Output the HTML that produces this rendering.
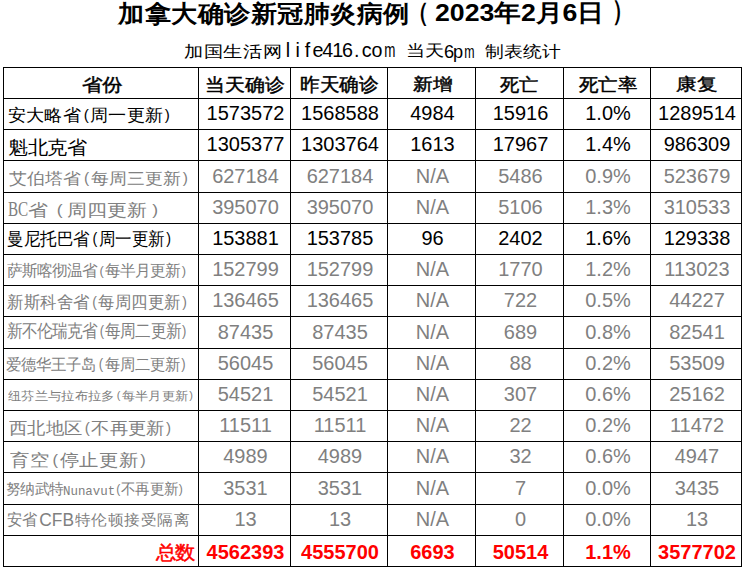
<!DOCTYPE html>
<html><head><meta charset="utf-8"><title>加拿大确诊新冠肺炎病例</title><style>
html,body{margin:0;padding:0;background:#fff;}
body{width:744px;height:571px;overflow:hidden;position:relative;font-family:"Liberation Sans",sans-serif;}
.l{position:absolute;background:#000;}
.c{position:absolute;display:flex;align-items:center;justify-content:center;white-space:nowrap;line-height:1;font-size:20px;transform:scaleY(1.045);}
.b{font-weight:bold;}
.t{position:absolute;left:0;top:0;white-space:nowrap;line-height:1;transform-origin:0 0;}
</style></head><body>

<div class="l" style="left:3px;top:67px;width:1px;height:500px"></div>
<div class="l" style="left:198px;top:67px;width:1px;height:500px"></div>
<div class="l" style="left:290px;top:67px;width:1px;height:500px"></div>
<div class="l" style="left:387px;top:67px;width:1px;height:500px"></div>
<div class="l" style="left:475px;top:67px;width:1px;height:500px"></div>
<div class="l" style="left:563px;top:67px;width:1px;height:500px"></div>
<div class="l" style="left:650px;top:67px;width:1px;height:500px"></div>
<div class="l" style="left:741px;top:67px;width:1px;height:500px"></div>
<div class="l" style="left:3px;top:67px;width:739px;height:1px"></div>
<div class="l" style="left:3px;top:98px;width:739px;height:1px"></div>
<div class="l" style="left:3px;top:129px;width:739px;height:1px"></div>
<div class="l" style="left:3px;top:160px;width:739px;height:1px"></div>
<div class="l" style="left:3px;top:192px;width:739px;height:1px"></div>
<div class="l" style="left:3px;top:223px;width:739px;height:1px"></div>
<div class="l" style="left:3px;top:254px;width:739px;height:1px"></div>
<div class="l" style="left:3px;top:285px;width:739px;height:1px"></div>
<div class="l" style="left:3px;top:316px;width:739px;height:1px"></div>
<div class="l" style="left:3px;top:348px;width:739px;height:1px"></div>
<div class="l" style="left:3px;top:379px;width:739px;height:1px"></div>
<div class="l" style="left:3px;top:410px;width:739px;height:1px"></div>
<div class="l" style="left:3px;top:441px;width:739px;height:1px"></div>
<div class="l" style="left:3px;top:472px;width:739px;height:1px"></div>
<div class="l" style="left:3px;top:504px;width:739px;height:1px"></div>
<div class="l" style="left:3px;top:535px;width:739px;height:1px"></div>
<div class="l" style="left:3px;top:566px;width:739px;height:1px"></div>
<div class="t" style="font-family:'Liberation Sans',sans-serif;font-size:24.59px;font-weight:bold;color:#000;left:117.50px;top:1.98px;transform:scale(1.0602,0.9760)">加拿大确诊新冠肺炎病例</div>
<div class="t" style="font-family:'Liberation Sans',sans-serif;font-size:23.66px;font-weight:bold;color:#000;left:407.25px;top:-0.18px;transform:scale(0.9167,1.0909)">（</div>
<div class="t" style="font-family:'Liberation Sans',sans-serif;font-size:24.94px;font-weight:bold;color:#000;left:435.33px;top:1.04px;transform:scale(1.0693,0.9583)">2023年2月6日</div>
<div class="t" style="font-family:'Liberation Sans',sans-serif;font-size:26.06px;font-weight:bold;color:#000;left:611.56px;top:-2.74px;transform:scale(0.8143,1.0609)">）</div>
<div class="t" style="font-family:'Liberation Sans',sans-serif;font-size:18.03px;color:#000;left:184.10px;top:42.70px;transform:scale(1.0966,0.9118)">加国生活网</div>
<div class="t" style="font-family:'Liberation Sans',sans-serif;font-size:20.39px;color:#000;left:282.64px;top:41.37px;transform:scale(0.9658,0.9667)"><span style="display:inline-block;width:0.5em;text-align:center">l</span><span style="display:inline-block;width:0.5em;text-align:center">i</span><span style="display:inline-block;width:0.5em;text-align:center">f</span><span style="display:inline-block;width:0.5em;text-align:center">e</span><span style="display:inline-block;width:0.5em;text-align:center">4</span><span style="display:inline-block;width:0.5em;text-align:center">1</span><span style="display:inline-block;width:0.5em;text-align:center">6</span><span style="display:inline-block;width:0.5em;text-align:center">.</span><span style="display:inline-block;width:0.5em;text-align:center">c</span><span style="display:inline-block;width:0.5em;text-align:center">o</span><span style="display:inline-block;width:0.5em;text-align:center"><span style="display:inline-block;transform:scaleX(0.68)">m</span></span></div>
<div class="t" style="font-family:'Liberation Sans',sans-serif;font-size:17.97px;color:#000;left:405.57px;top:44.19px;transform:scale(1.0636,0.8882)">当天</div>
<div class="t" style="font-family:'Liberation Sans',sans-serif;font-size:18.33px;color:#000;left:443.81px;top:43.00px;transform:scale(0.9931,1.0000)"><span style="display:inline-block;width:0.5em;text-align:center">6</span><span style="display:inline-block;width:0.5em;text-align:center">p</span><span style="display:inline-block;width:0.5em;text-align:center"><span style="display:inline-block;transform:scaleX(0.68)">m</span></span></div>
<div class="t" style="font-family:'Liberation Sans',sans-serif;font-size:17.86px;color:#000;left:484.70px;top:43.61px;transform:scale(1.0648,0.9056)">制表统计</div>
<div class="t" style="font-family:'Liberation Sans',sans-serif;font-size:19.09px;-webkit-text-stroke:0.45px #000;color:#000;left:81.63px;top:76.00px;transform:scale(1.0722,0.9368)">省份</div>
<div class="t" style="font-family:'Liberation Sans',sans-serif;font-size:18.95px;-webkit-text-stroke:0.45px #000;color:#000;left:204.91px;top:76.95px;transform:scale(1.0473,0.9474)">当天确诊</div>
<div class="t" style="font-family:'Liberation Sans',sans-serif;font-size:19.30px;-webkit-text-stroke:0.45px #000;color:#000;left:300.17px;top:75.00px;transform:scale(1.0320,1.0000)">昨天确诊</div>
<div class="t" style="font-family:'Liberation Sans',sans-serif;font-size:18.36px;-webkit-text-stroke:0.45px #000;color:#000;left:412.50px;top:76.00px;transform:scale(1.0971,0.9444)">新增</div>
<div class="t" style="font-family:'Liberation Sans',sans-serif;font-size:18.57px;-webkit-text-stroke:0.45px #000;color:#000;left:500.00px;top:76.94px;transform:scale(1.0105,0.9444)">死亡</div>
<div class="t" style="font-family:'Liberation Sans',sans-serif;font-size:18.23px;-webkit-text-stroke:0.45px #000;color:#000;left:578.80px;top:76.00px;transform:scale(1.0815,1.0000)">死亡率</div>
<div class="t" style="font-family:'Liberation Sans',sans-serif;font-size:18.77px;-webkit-text-stroke:0.45px #000;color:#000;left:676.32px;top:76.89px;transform:scale(1.0806,0.8947)">康复</div>
<div class="t" style="font-family:'Liberation Sans',sans-serif;font-size:17.69px;color:#000;left:8.39px;top:107.95px;transform:scale(1.0127,0.9529)">安大略省<span style="font-size:0.85em;position:relative;top:-0.07em;padding:0 0.1em 0 0.18em">(</span>周一更新<span style="font-size:0.85em;position:relative;top:-0.07em;padding:0 0.18em 0 0.1em">)</span></div>
<div class="t" style="font-family:'Liberation Sans',sans-serif;font-size:19.05px;color:#000;left:8.36px;top:138.00px;transform:scale(1.0351,0.9722)">魁北克省</div>
<div class="t" style="font-family:'Liberation Sans',sans-serif;font-size:17.18px;color:#808080;left:9.40px;top:170.80px;transform:scale(1.0631,0.9529)">艾伯塔省<span style="font-size:0.85em;position:relative;top:-0.07em;padding:0 0.1em 0 0.18em">(</span>每周三更新<span style="font-size:0.85em;position:relative;top:-0.07em;padding:0 0.18em 0 0.1em">)</span></div>
<div class="t" style="font-family:'Liberation Serif',serif;font-size:17.42px;color:#808080;left:7.73px;top:199.32px;transform:scale(0.8714,1.2273)">BC</div>
<div class="t" style="font-family:'Liberation Sans',sans-serif;font-size:17.58px;color:#808080;left:28.49px;top:202.65px;transform:scale(1.1104,0.9471)">省<span style="font-size:0.9em;position:relative;top:-0.06em;padding:0 0.25em 0 0.5em">(</span>周四更新<span style="font-size:0.9em;position:relative;top:-0.06em;padding:0 0 0 0.3em">)</span></div>
<div class="t" style="font-family:'Liberation Sans',sans-serif;font-size:17.32px;color:#000;left:7.03px;top:230.40px;transform:scale(0.9743,1.0625)">曼尼托巴省<span style="font-size:0.85em;position:relative;top:-0.07em;padding:0 0.1em 0 0.18em">(</span>周一更新<span style="font-size:0.85em;position:relative;top:-0.07em;padding:0 0.18em 0 0.1em">)</span></div>
<div class="t" style="font-family:'Liberation Sans',sans-serif;font-size:15.18px;color:#808080;left:7.00px;top:262.98px;transform:scale(1.0028,1.0214)">萨斯喀彻温省<span style="font-size:0.85em;position:relative;top:-0.07em;padding:0 0.1em 0 0.18em">(</span>每半月更新<span style="font-size:0.85em;position:relative;top:-0.07em;padding:0 0.18em 0 0.1em">)</span></div>
<div class="t" style="font-family:'Liberation Sans',sans-serif;font-size:16.82px;color:#808080;left:6.53px;top:294.71px;transform:scale(0.9727,1.0063)">新斯科舍省<span style="font-size:0.85em;position:relative;top:-0.07em;padding:0 0.1em 0 0.18em">(</span>每周四更新<span style="font-size:0.85em;position:relative;top:-0.07em;padding:0 0.18em 0 0.1em">)</span></div>
<div class="t" style="font-family:'Liberation Sans',sans-serif;font-size:16.22px;color:#808080;left:6.56px;top:322.12px;transform:scale(0.9418,1.0800)">新不伦瑞克省<span style="font-size:0.85em;position:relative;top:-0.07em;padding:0 0.1em 0 0.18em">(</span>每周二更新<span style="font-size:0.85em;position:relative;top:-0.07em;padding:0 0.18em 0 0.1em">)</span></div>
<div class="t" style="font-family:'Liberation Sans',sans-serif;font-size:15.42px;color:#808080;left:6.49px;top:355.75px;transform:scale(1.0056,1.0500)">爱德华王子岛<span style="font-size:0.85em;position:relative;top:-0.07em;padding:0 0.1em 0 0.18em">(</span>每周二更新<span style="font-size:0.85em;position:relative;top:-0.07em;padding:0 0.18em 0 0.1em">)</span></div>
<div class="t" style="font-family:'Liberation Sans',sans-serif;font-size:12.72px;color:#808080;left:7.50px;top:391.33px;transform:scale(1.0261,0.9308)">纽芬兰与拉布拉多<span style="font-size:0.85em;position:relative;top:-0.07em;padding:0 0.1em 0 0.18em">(</span>每半月更新<span style="font-size:0.85em;position:relative;top:-0.07em;padding:0 0.18em 0 0.1em">)</span></div>
<div class="t" style="font-family:'Liberation Sans',sans-serif;font-size:17.60px;color:#808080;left:9.40px;top:420.94px;transform:scale(1.0145,0.9412)">西北地区<span style="font-size:0.85em;position:relative;top:-0.07em;padding:0 0.1em 0 0.18em">(</span>不再更新<span style="font-size:0.85em;position:relative;top:-0.07em;padding:0 0.18em 0 0.1em">)</span></div>
<div class="t" style="font-family:'Liberation Sans',sans-serif;font-size:18.59px;color:#808080;left:9.71px;top:451.72px;transform:scale(1.0407,0.9158)">育空<span style="font-size:0.85em;position:relative;top:-0.07em;padding:0 0.1em 0 0.18em">(</span>停止更新<span style="font-size:0.85em;position:relative;top:-0.07em;padding:0 0.18em 0 0.1em">)</span></div>
<div class="t" style="font-family:'Liberation Sans',sans-serif;font-size:14.41px;color:#808080;left:6.38px;top:482.36px;transform:scale(1.0204,1.0385)">努纳武特</div>
<div class="t" style="font-family:'Liberation Mono',monospace;font-size:11.53px;color:#808080;left:62.72px;top:484.51px;transform:scale(1.0783,1.1429)">Nunavut</div>
<div class="t" style="font-family:'Liberation Sans',sans-serif;font-size:14.29px;color:#808080;left:113.79px;top:482.36px;transform:scale(1.0031,1.0385)"><span style="font-size:0.85em;position:relative;top:-0.07em;padding:0 0.1em 0 0.18em">(</span>不再更新<span style="font-size:0.85em;position:relative;top:-0.07em;padding:0 0.18em 0 0.1em">)</span></div>
<div class="t" style="font-family:'Liberation Sans',sans-serif;font-size:14.96px;color:#808080;left:7.29px;top:512.30px;transform:scale(1.0103,1.0571)">安省</div>
<div class="t" style="font-family:'Liberation Sans',sans-serif;font-size:17.34px;color:#808080;left:39.30px;top:511.68px;transform:scale(1.0000,1.0083)">CFB</div>
<div class="t" style="font-family:'Liberation Sans',sans-serif;font-size:15.61px;color:#808080;left:74.60px;top:512.30px;transform:scale(1.0279,0.9867)">特伦顿接受隔离</div>
<div class="t" style="font-family:'Liberation Sans',sans-serif;font-size:18.31px;-webkit-text-stroke:0.45px #f00;color:#ff0000;left:156.00px;top:544.00px;transform:scale(1.0800,1.0118)">总数</div>
<div class="c " style="left:200px;top:98.30px;width:91px;height:30.00px;color:#000;">1573572</div>
<div class="c " style="left:292px;top:98.30px;width:96px;height:30.00px;color:#000;">1568588</div>
<div class="c " style="left:389px;top:98.30px;width:87px;height:30.00px;color:#000;">4984</div>
<div class="c " style="left:477px;top:98.30px;width:87px;height:30.00px;color:#000;">15916</div>
<div class="c " style="left:565px;top:98.30px;width:86px;height:30.00px;color:#000;">1.0%</div>
<div class="c " style="left:652px;top:98.30px;width:90px;height:30.00px;color:#000;">1289514</div>
<div class="c " style="left:200px;top:129.30px;width:91px;height:30.00px;color:#000;">1305377</div>
<div class="c " style="left:292px;top:129.30px;width:96px;height:30.00px;color:#000;">1303764</div>
<div class="c " style="left:389px;top:129.30px;width:87px;height:30.00px;color:#000;">1613</div>
<div class="c " style="left:477px;top:129.30px;width:87px;height:30.00px;color:#000;">17967</div>
<div class="c " style="left:565px;top:129.30px;width:86px;height:30.00px;color:#000;">1.4%</div>
<div class="c " style="left:652px;top:129.30px;width:90px;height:30.00px;color:#000;">986309</div>
<div class="c " style="left:200px;top:160.30px;width:91px;height:31.00px;color:#808080;">627184</div>
<div class="c " style="left:292px;top:160.30px;width:96px;height:31.00px;color:#808080;">627184</div>
<div class="c " style="left:389px;top:160.30px;width:87px;height:31.00px;color:#808080;">N/A</div>
<div class="c " style="left:477px;top:160.30px;width:87px;height:31.00px;color:#808080;">5486</div>
<div class="c " style="left:565px;top:160.30px;width:86px;height:31.00px;color:#808080;">0.9%</div>
<div class="c " style="left:652px;top:160.30px;width:90px;height:31.00px;color:#808080;">523679</div>
<div class="c " style="left:200px;top:192.30px;width:91px;height:30.00px;color:#808080;">395070</div>
<div class="c " style="left:292px;top:192.30px;width:96px;height:30.00px;color:#808080;">395070</div>
<div class="c " style="left:389px;top:192.30px;width:87px;height:30.00px;color:#808080;">N/A</div>
<div class="c " style="left:477px;top:192.30px;width:87px;height:30.00px;color:#808080;">5106</div>
<div class="c " style="left:565px;top:192.30px;width:86px;height:30.00px;color:#808080;">1.3%</div>
<div class="c " style="left:652px;top:192.30px;width:90px;height:30.00px;color:#808080;">310533</div>
<div class="c " style="left:200px;top:223.30px;width:91px;height:30.00px;color:#000;">153881</div>
<div class="c " style="left:292px;top:223.30px;width:96px;height:30.00px;color:#000;">153785</div>
<div class="c " style="left:389px;top:223.30px;width:87px;height:30.00px;color:#000;">96</div>
<div class="c " style="left:477px;top:223.30px;width:87px;height:30.00px;color:#000;">2402</div>
<div class="c " style="left:565px;top:223.30px;width:86px;height:30.00px;color:#000;">1.6%</div>
<div class="c " style="left:652px;top:223.30px;width:90px;height:30.00px;color:#000;">129338</div>
<div class="c " style="left:200px;top:254.30px;width:91px;height:30.00px;color:#808080;">152799</div>
<div class="c " style="left:292px;top:254.30px;width:96px;height:30.00px;color:#808080;">152799</div>
<div class="c " style="left:389px;top:254.30px;width:87px;height:30.00px;color:#808080;">N/A</div>
<div class="c " style="left:477px;top:254.30px;width:87px;height:30.00px;color:#808080;">1770</div>
<div class="c " style="left:565px;top:254.30px;width:86px;height:30.00px;color:#808080;">1.2%</div>
<div class="c " style="left:652px;top:254.30px;width:90px;height:30.00px;color:#808080;">113023</div>
<div class="c " style="left:200px;top:285.30px;width:91px;height:30.00px;color:#808080;">136465</div>
<div class="c " style="left:292px;top:285.30px;width:96px;height:30.00px;color:#808080;">136465</div>
<div class="c " style="left:389px;top:285.30px;width:87px;height:30.00px;color:#808080;">N/A</div>
<div class="c " style="left:477px;top:285.30px;width:87px;height:30.00px;color:#808080;">722</div>
<div class="c " style="left:565px;top:285.30px;width:86px;height:30.00px;color:#808080;">0.5%</div>
<div class="c " style="left:652px;top:285.30px;width:90px;height:30.00px;color:#808080;">44227</div>
<div class="c " style="left:200px;top:316.30px;width:91px;height:31.00px;color:#808080;">87435</div>
<div class="c " style="left:292px;top:316.30px;width:96px;height:31.00px;color:#808080;">87435</div>
<div class="c " style="left:389px;top:316.30px;width:87px;height:31.00px;color:#808080;">N/A</div>
<div class="c " style="left:477px;top:316.30px;width:87px;height:31.00px;color:#808080;">689</div>
<div class="c " style="left:565px;top:316.30px;width:86px;height:31.00px;color:#808080;">0.8%</div>
<div class="c " style="left:652px;top:316.30px;width:90px;height:31.00px;color:#808080;">82541</div>
<div class="c " style="left:200px;top:348.30px;width:91px;height:30.00px;color:#808080;">56045</div>
<div class="c " style="left:292px;top:348.30px;width:96px;height:30.00px;color:#808080;">56045</div>
<div class="c " style="left:389px;top:348.30px;width:87px;height:30.00px;color:#808080;">N/A</div>
<div class="c " style="left:477px;top:348.30px;width:87px;height:30.00px;color:#808080;">88</div>
<div class="c " style="left:565px;top:348.30px;width:86px;height:30.00px;color:#808080;">0.2%</div>
<div class="c " style="left:652px;top:348.30px;width:90px;height:30.00px;color:#808080;">53509</div>
<div class="c " style="left:200px;top:379.30px;width:91px;height:30.00px;color:#808080;">54521</div>
<div class="c " style="left:292px;top:379.30px;width:96px;height:30.00px;color:#808080;">54521</div>
<div class="c " style="left:389px;top:379.30px;width:87px;height:30.00px;color:#808080;">N/A</div>
<div class="c " style="left:477px;top:379.30px;width:87px;height:30.00px;color:#808080;">307</div>
<div class="c " style="left:565px;top:379.30px;width:86px;height:30.00px;color:#808080;">0.6%</div>
<div class="c " style="left:652px;top:379.30px;width:90px;height:30.00px;color:#808080;">25162</div>
<div class="c " style="left:200px;top:410.30px;width:91px;height:30.00px;color:#808080;">11511</div>
<div class="c " style="left:292px;top:410.30px;width:96px;height:30.00px;color:#808080;">11511</div>
<div class="c " style="left:389px;top:410.30px;width:87px;height:30.00px;color:#808080;">N/A</div>
<div class="c " style="left:477px;top:410.30px;width:87px;height:30.00px;color:#808080;">22</div>
<div class="c " style="left:565px;top:410.30px;width:86px;height:30.00px;color:#808080;">0.2%</div>
<div class="c " style="left:652px;top:410.30px;width:90px;height:30.00px;color:#808080;">11472</div>
<div class="c " style="left:200px;top:441.30px;width:91px;height:30.00px;color:#808080;">4989</div>
<div class="c " style="left:292px;top:441.30px;width:96px;height:30.00px;color:#808080;">4989</div>
<div class="c " style="left:389px;top:441.30px;width:87px;height:30.00px;color:#808080;">N/A</div>
<div class="c " style="left:477px;top:441.30px;width:87px;height:30.00px;color:#808080;">32</div>
<div class="c " style="left:565px;top:441.30px;width:86px;height:30.00px;color:#808080;">0.6%</div>
<div class="c " style="left:652px;top:441.30px;width:90px;height:30.00px;color:#808080;">4947</div>
<div class="c " style="left:200px;top:472.30px;width:91px;height:31.00px;color:#808080;">3531</div>
<div class="c " style="left:292px;top:472.30px;width:96px;height:31.00px;color:#808080;">3531</div>
<div class="c " style="left:389px;top:472.30px;width:87px;height:31.00px;color:#808080;">N/A</div>
<div class="c " style="left:477px;top:472.30px;width:87px;height:31.00px;color:#808080;">7</div>
<div class="c " style="left:565px;top:472.30px;width:86px;height:31.00px;color:#808080;">0.0%</div>
<div class="c " style="left:652px;top:472.30px;width:90px;height:31.00px;color:#808080;">3435</div>
<div class="c " style="left:200px;top:504.30px;width:91px;height:30.00px;color:#808080;">13</div>
<div class="c " style="left:292px;top:504.30px;width:96px;height:30.00px;color:#808080;">13</div>
<div class="c " style="left:389px;top:504.30px;width:87px;height:30.00px;color:#808080;">N/A</div>
<div class="c " style="left:477px;top:504.30px;width:87px;height:30.00px;color:#808080;">0</div>
<div class="c " style="left:565px;top:504.30px;width:86px;height:30.00px;color:#808080;">0.0%</div>
<div class="c " style="left:652px;top:504.30px;width:90px;height:30.00px;color:#808080;">13</div>
<div class="c b" style="left:200px;top:537.30px;width:91px;height:30.00px;color:#ff0000;font-size:20px;">4562393</div>
<div class="c b" style="left:292px;top:537.30px;width:96px;height:30.00px;color:#ff0000;font-size:20px;">4555700</div>
<div class="c b" style="left:389px;top:537.30px;width:87px;height:30.00px;color:#ff0000;font-size:20px;">6693</div>
<div class="c b" style="left:477px;top:537.30px;width:87px;height:30.00px;color:#ff0000;font-size:20px;">50514</div>
<div class="c b" style="left:565px;top:537.30px;width:86px;height:30.00px;color:#ff0000;font-size:20px;">1.1%</div>
<div class="c b" style="left:652px;top:537.30px;width:90px;height:30.00px;color:#ff0000;font-size:20px;">3577702</div>
</body></html>
